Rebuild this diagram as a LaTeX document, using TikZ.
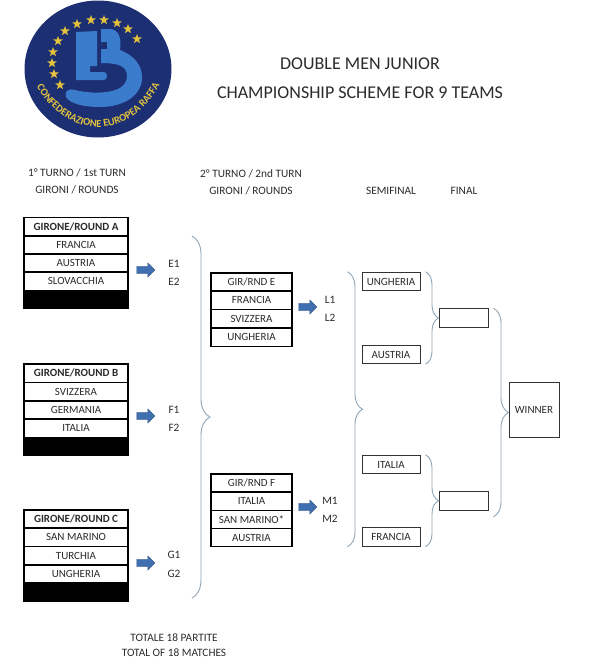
\documentclass[tikz,border=0pt]{standalone}
\usepackage{fontspec}
\setmainfont{Carlito}
\usepackage{xcolor}
\usetikzlibrary{calc,shapes.geometric,shapes.arrows,decorations.pathreplacing,decorations.text}
\definecolor{logonavy}{HTML}{1D2F73}
\definecolor{logoblue}{HTML}{3A7CCB}
\definecolor{logogold}{HTML}{E3C23E}
\definecolor{textgrey}{HTML}{2B2B2B}
\definecolor{bracegrey}{HTML}{8FA5B5}
\definecolor{arrowblue}{HTML}{3F6FB0}
\tikzset{
  label/.style={text=textgrey, font=\fontsize{11.3}{12}\selectfont, inner sep=0pt},
  cell/.style={draw=black, line width=1.3pt, minimum width=104pt, minimum height=18.3pt, inner sep=0pt, text=textgrey, font=\fontsize{11}{12}\selectfont},
  headcell/.style={cell, font=\fontsize{11}{12}\selectfont\bfseries},
  blackcell/.style={cell, fill=black},
  smallcell/.style={cell, minimum width=81pt},
  finalbox/.style={draw=black!80, line width=1pt, minimum width=58pt, minimum height=18.5pt, inner sep=0pt, text=textgrey, font=\fontsize{11}{12}\selectfont},
  bluearrow/.style={single arrow, draw=arrowblue!70!black, fill=arrowblue, minimum width=14pt, minimum height=18pt, single arrow head extend=3pt, inner sep=3.2pt, line width=0.3pt},
  bracket/.style={draw=bracegrey, line width=0.9pt, decorate, decoration={brace, amplitude=#1}},
  bracket/.default=15pt,
  logostar/.style={star, star points=5, star point ratio=2.4, fill=logogold, inner sep=0pt, minimum size=10pt}
}
\begin{document}
\begin{tikzpicture}[x=1pt, y=-1pt]
  \useasboundingbox (0,0) rectangle (600,664);

  %--- Logo ---
  \fill[logonavy] (98,69) ellipse [x radius=73.5, y radius=68.5];
  \fill[logoblue] (76,32) -- (97,31) -- (97,66) -- (90,66) -- (90,72) -- (104,72)
    .. controls (108,72) and (108,80) .. (104,80) -- (76,80) -- cycle;
  \fill[logoblue] (101,29) -- (110,29) .. controls (118,29) and (122,38) .. (120,50)
    .. controls (135,56) and (143,66) .. (142,80)
    .. controls (140,97) and (122,107) .. (100,107)
    .. controls (85,107) and (70,104) .. (66,97)
    .. controls (64,91) and (69,88) .. (75,90)
    .. controls (90,94) and (127,96) .. (127,76)
    .. controls (127,66) and (118,63) .. (101,63) -- (101,49) -- (107,49) -- (107,42) -- (101,42) -- cycle;
  \foreach \x/\y [count=\i] in {137/39, 128/29, 117/23, 104/20, 91/20, 77/24, 65/31, 58/41, 53/52, 52/63, 54/74, 60/85}
    \node[logostar] (star\i) at (\x,\y) {};
  \path[postaction={decorate, decoration={text along path, text align=center,
      text={|\fontsize{10.5}{11}\selectfont\bfseries\color{logogold}|CONFEDERAZIONE EUROPEA RAFFA}}}]
    (31,74) .. controls (44,108) and (72,127) .. (98,127) .. controls (126,127) and (153,106) .. (165,72);

  %--- Title ---
  \node[text=textgrey, font=\fontsize{18}{20}\selectfont] (title1) at (360,64) {DOUBLE MEN JUNIOR};
  \node[text=textgrey, font=\fontsize{18}{20}\selectfont] (title2) at (360,93) {CHAMPIONSHIP SCHEME FOR 9 TEAMS};

  %--- Column headings ---
  \node[label] (turn1a) at (77,173) {1° TURNO / 1st TURN};
  \node[label] (turn1b) at (77,190) {GIRONI / ROUNDS};
  \node[label] (turn2a) at (251,174) {2° TURNO / 2nd TURN};
  \node[label] (turn2b) at (251,191) {GIRONI / ROUNDS};
  \node[label] (semi) at (391,191) {SEMIFINAL};
  \node[label] (final) at (464,191) {FINAL};

  %--- Round A ---
  \node[headcell] (a0) at (76,226.5) {GIRONE/ROUND A};
  \node[cell] (a1) at (76,245) {FRANCIA};
  \node[cell] (a2) at (76,263) {AUSTRIA};
  \node[cell] (a3) at (76,281) {SLOVACCHIA};
  \node[blackcell] (a4) at (76,299.5) {};
  \node[bluearrow] (arrowa) at (144,270) {};
  \node[label] (e1) at (174,264) {E1};
  \node[label] (e2) at (174,282) {E2};

  %--- Round B ---
  \node[headcell] (b0) at (76,373) {GIRONE/ROUND B};
  \node[cell] (b1) at (76,391.5) {SVIZZERA};
  \node[cell] (b2) at (76,410) {GERMANIA};
  \node[cell] (b3) at (76,428) {ITALIA};
  \node[blackcell] (b4) at (76,446.5) {};
  \node[bluearrow] (arrowb) at (144,416) {};
  \node[label] (f1) at (174,410) {F1};
  \node[label] (f2) at (174,428) {F2};

  %--- Round C ---
  \node[headcell] (c0) at (76,519) {GIRONE/ROUND C};
  \node[cell] (c1) at (76,537) {SAN MARINO};
  \node[cell] (c2) at (76,555.5) {TURCHIA};
  \node[cell] (c3) at (76,574) {UNGHERIA};
  \node[blackcell] (c4) at (76,592) {};
  \node[bluearrow] (arrowc) at (144,563) {};
  \node[label] (g1) at (174,555) {G1};
  \node[label] (g2) at (174,574) {G2};

  %--- Round E ---
  \node[smallcell] (e0) at (251.5,282) {GIR/RND E};
  \node[smallcell] (e5) at (251.5,300) {FRANCIA};
  \node[smallcell] (e6) at (251.5,318.5) {SVIZZERA};
  \node[smallcell] (e7) at (251.5,337) {UNGHERIA};
  \node[bluearrow] (arrowe) at (306,307) {};
  \node[label] (l1) at (330,300) {L1};
  \node[label] (l2) at (330,318) {L2};

  %--- Round F ---
  \node[smallcell] (f0) at (251.5,483) {GIR/RND F};
  \node[smallcell] (f5) at (251.5,501) {ITALIA};
  \node[smallcell] (f6) at (251.5,519.5) {SAN MARINO*};
  \node[smallcell] (f7) at (251.5,537.5) {AUSTRIA};
  \node[bluearrow] (arrowf) at (306,507) {};
  \node[label] (m1) at (330,501) {M1};
  \node[label] (m2) at (330,519) {M2};

  %--- Semifinal, final, winner ---
  \node[finalbox] (s1) at (391,281.5) {UNGHERIA};
  \node[finalbox] (s2) at (391,354.5) {AUSTRIA};
  \node[finalbox] (s3) at (391,464.5) {ITALIA};
  \node[finalbox] (s4) at (391,537) {FRANCIA};
  \node[finalbox, minimum width=49pt] (final1) at (463.5,318) {};
  \node[finalbox, minimum width=49pt] (final2) at (463.5,501) {};
  \node[finalbox, minimum width=50pt, minimum height=55pt] (winner) at (534,409.5) {WINNER};

  %--- Braces ---
  \coordinate (bigtop) at (192,236);
  \coordinate (bigbottom) at (192,598);
  \draw[bracket=18pt] (bigtop) -- (bigbottom);
  \draw[bracket] ($(s1.north west)+(-14,0)$) -- ($(s4.south west)+(-14,0)$);
  \draw[bracket=13pt] ($(s1.north east)+(5,0)$) -- ($(s2.south east)+(5,0)$);
  \draw[bracket=13pt] ($(s3.north east)+(5,0)$) -- ($(s4.south east)+(5,0)$);
  \draw[bracket] ($(final1.north east)+(5,0)$) -- ($(final2.south east)+(5,6)$);

  %--- Totals ---
  \node[label] (total1) at (174,638) {TOTALE 18 PARTITE};
  \node[label] (total2) at (174,653) {TOTAL OF 18 MATCHES};
\end{tikzpicture}
\end{document}
